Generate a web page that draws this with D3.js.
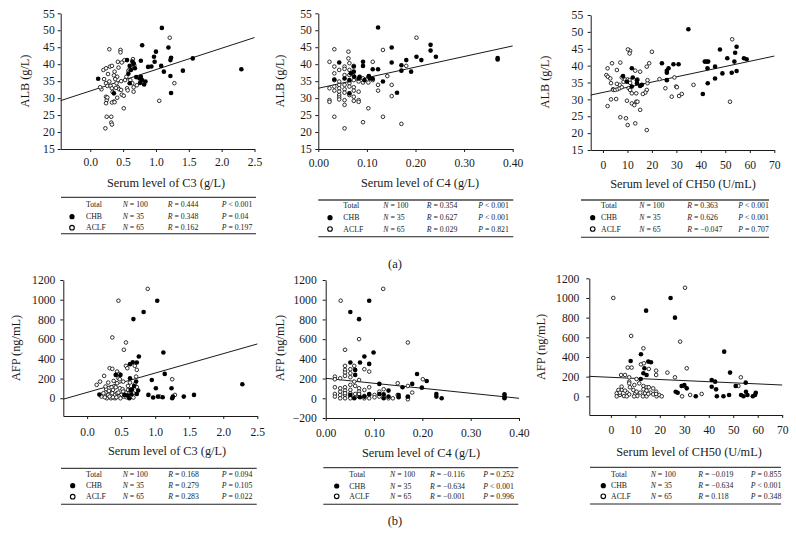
<!DOCTYPE html>
<html><head><meta charset="utf-8">
<script src="https://cdn.jsdelivr.net/npm/d3@7"></script>
<style>
body{margin:0;background:#fff}
svg{display:block}
text{font-family:"Liberation Serif","DejaVu Serif",serif;fill:#1a1a1a}
</style>
</head><body>
<svg id="c" width="796" height="549"></svg>
<script>
// ---------- DATA ----------
const groups = ["Total", "CHB", "ACLF"];
const groupN = [100, 35, 65];

const albTicks = [15, 20, 25, 30, 35, 40, 45, 50, 55];
const afpTicks = [0, 200, 400, 600, 800, 1000, 1200];
const afpTicksNeg = [-200, 0, 200, 400, 600, 800, 1000, 1200];
const c3Ticks = [0, 0.5, 1.0, 1.5, 2.0, 2.5];
const c4Ticks = [0, 0.1, 0.2, 0.3, 0.4];
const ch50Ticks = [0, 10, 20, 30, 40, 50, 60, 70];

// C3 vs ALB
const c3AlbCHB = [[0.12,35.7],[0.36,31.4],[0.56,41.2],[0.60,39.5],[0.62,38.3],[0.64,40.8],[0.66,40.1],[0.68,38.8],[0.75,35.8],[0.77,36.3],[0.76,34.5],[0.79,35.3],[0.84,34.9],[0.79,45.6],[0.77,41.0],[0.88,39.2],[0.93,39.3],[0.97,42.2],[0.98,40.7],[1.00,43.7],[1.08,39.5],[1.09,50.7],[1.12,37.8],[1.19,44.9],[1.22,41.2],[1.23,41.9],[1.22,36.5],[1.23,31.5],[1.41,38.1],[1.56,41.7],[2.30,38.5],[0.58,37.2],[0.60,34.4],[0.70,36.2],[0.82,34.0]];
const c3AlbACLF = [[0.29,44.4],[0.46,44.2],[0.46,43.5],[0.23,21.1],[0.25,24.5],[0.32,24.5],[0.32,22.8],[0.33,22.2],[0.51,27.0],[1.05,29.2],[1.21,47.8],[1.28,34.4],[0.17,32.6],[0.20,38.3],[0.24,38.8],[0.27,37.1],[0.30,39.3],[0.33,39.5],[0.42,40.7],[0.43,39.0],[0.41,36.3],[0.38,35.6],[0.40,34.4],[0.42,33.2],[0.44,32.6],[0.47,32.4],[0.48,31.0],[0.51,30.7],[0.56,32.9],[0.53,35.3],[0.55,36.3],[0.58,38.1],[0.62,39.3],[0.66,40.3],[0.65,41.5],[0.67,39.7],[0.61,35.3],[0.64,34.4],[0.66,33.2],[0.66,31.9],[0.24,34.4],[0.26,33.6],[0.31,33.6],[0.33,32.9],[0.34,31.8],[0.36,29.0],[0.33,28.7],[0.25,29.4],[0.24,30.4],[0.26,30.2],[0.24,28.5],[0.41,30.1],[0.37,28.8],[0.15,33.2],[0.21,35.6],[0.29,34.9],[0.36,36.7],[0.37,37.8],[0.48,40.5],[0.52,41.2],[0.60,38.4],[0.71,33.8],[0.57,32.3],[0.47,35.0],[0.39,33.0]];
const c3AlbFit = [32.1, 6.3];
const c3AlbR = ["0.444", "0.348", "0.162"];
const c3AlbP = ["< 0.001", "= 0.04", "= 0.197"];

// C4 vs ALB
const c4AlbCHB = [[0.123,50.8],[0.043,40.5],[0.033,35.5],[0.064,31.4],[0.073,37.8],[0.073,39.3],[0.092,40.7],[0.092,39.5],[0.085,36.3],[0.104,36.5],[0.112,38.5],[0.123,38.5],[0.112,35.7],[0.133,34.9],[0.151,44.9],[0.151,40.5],[0.162,31.6],[0.171,39.7],[0.171,38.1],[0.181,41.2],[0.191,37.8],[0.202,42.2],[0.212,41.2],[0.231,45.7],[0.231,44.0],[0.242,42.2],[0.369,41.4],[0.369,41.8],[0.074,36.3],[0.054,35.8],[0.064,35.3],[0.095,35.3],[0.106,35.8],[0.083,35.8],[0.067,37.3]];
const c4AlbACLF = [[0.033,44.4],[0.062,43.7],[0.062,41.7],[0.023,40.7],[0.033,39.3],[0.043,38.3],[0.054,39.3],[0.054,38.6],[0.073,39.5],[0.033,37.3],[0.023,32.9],[0.023,29.4],[0.023,28.9],[0.033,24.5],[0.043,33.9],[0.043,32.9],[0.043,31.9],[0.043,30.9],[0.043,30.2],[0.054,29.4],[0.054,28.0],[0.054,21.1],[0.054,33.9],[0.054,32.6],[0.064,36.8],[0.064,34.4],[0.064,33.4],[0.073,35.3],[0.073,33.2],[0.073,32.2],[0.073,29.2],[0.083,31.9],[0.083,29.4],[0.083,28.9],[0.092,34.6],[0.092,22.9],[0.103,34.6],[0.103,27.0],[0.112,40.7],[0.123,33.9],[0.123,32.2],[0.133,44.2],[0.133,24.5],[0.142,36.5],[0.151,33.9],[0.151,30.6],[0.171,22.4],[0.181,39.5],[0.202,47.8],[0.064,40.3],[0.083,34.9],[0.103,36.3],[0.033,33.4],[0.033,35.3],[0.043,34.9],[0.054,36.8],[0.064,30.9],[0.073,36.5],[0.092,35.8],[0.054,31.6],[0.043,29.6],[0.033,32.2],[0.064,38.3],[0.112,35.3],[0.073,30.4]];
const c4AlbFit = [32.9, 31.2];
const c4AlbR = ["0.354", "0.627", "0.029"];
const c4AlbP = ["< 0.001", "< 0.001", "= 0.821"];

// CH50 vs ALB
const ch50AlbCHB = [[34.9,50.8],[24.1,40.7],[26.1,38.5],[26.1,37.9],[26.1,35.7],[26.8,39.2],[28.8,40.4],[30.9,40.4],[8.2,36.9],[11.8,39.2],[12.2,36.5],[13.9,35.7],[13.9,34.8],[15.2,34.0],[15.9,34.3],[11.8,33.8],[9.8,35.2],[40.8,31.6],[41.6,41.2],[42.3,41.2],[43.0,41.2],[42.7,39.2],[42.8,34.8],[45.8,39.7],[45.8,36.2],[47.8,44.8],[48.8,37.7],[50.8,42.2],[52.6,37.9],[54.0,43.8],[53.7,41.2],[54.6,45.6],[54.6,38.4],[57.6,42.2],[58.7,41.9]];
const ch50AlbACLF = [[11.1,44.4],[10.2,44.8],[10.9,43.6],[20.0,44.1],[18.9,40.7],[17.9,39.7],[3.7,40.7],[7.1,40.9],[1.4,37.2],[2.0,36.7],[3.0,36.2],[3.3,34.8],[4.1,33.0],[4.3,32.8],[5.0,32.8],[6.0,33.0],[6.8,33.3],[7.7,33.6],[6.8,34.3],[8.4,35.2],[9.1,35.9],[10.1,35.9],[10.9,35.7],[11.1,34.9],[10.5,33.3],[11.1,32.8],[9.8,29.6],[11.8,31.8],[11.8,28.8],[12.8,28.3],[13.6,31.8],[13.6,29.3],[14.1,29.3],[15.2,26.9],[13.2,22.9],[10.1,22.4],[7.1,24.7],[9.4,24.4],[1.9,28.0],[3.3,30.0],[5.4,30.1],[17.9,20.9],[17.9,32.8],[17.3,32.0],[16.3,31.6],[18.2,34.8],[18.2,35.7],[15.2,38.2],[13.2,38.5],[5.7,38.7],[1.9,39.2],[23.1,36.0],[25.5,33.3],[29.9,33.8],[30.2,33.6],[29.2,36.5],[28.1,30.8],[31.1,31.0],[32.2,31.6],[37.0,34.3],[51.9,29.3],[52.8,47.8],[7.7,36.5],[14.1,35.9],[5.7,34.6]];
const ch50AlbFit = [32.05, 0.154];
const ch50AlbR = ["0.363", "0.626", "\u22120.047"];
const ch50AlbP = ["< 0.001", "< 0.001", "= 0.707"];

// C3 vs AFP
const c3AfpCHB = [[1.03,990],[0.83,875],[0.68,803],[0.76,424],[0.67,366],[0.73,363],[1.12,464],[0.63,346],[0.49,237],[0.42,237],[0.63,203],[0.72,170],[0.95,186],[1.14,247],[0.75,78],[0.73,44],[0.66,92],[0.65,41],[0.59,27],[0.62,0],[1.01,102],[0.90,34],[1.11,10],[1.26,17],[1.42,17],[1.57,34],[2.28,142],[0.18,37],[0.55,34],[1.04,17],[1.24,102],[1.25,0],[0.64,85],[0.69,125],[0.97,7]];
const c3AfpACLF = [[0.46,990],[0.89,1110],[0.37,617],[0.57,566],[0.54,492],[0.25,227],[0.33,305],[0.37,298],[0.57,329],[0.59,305],[0.70,329],[0.73,288],[0.44,271],[0.47,247],[0.46,203],[0.48,193],[0.72,220],[0.31,159],[0.39,176],[0.70,142],[0.73,112],[0.60,125],[1.25,193],[0.28,92],[0.36,112],[0.48,102],[0.52,92],[0.68,51],[0.57,58],[0.27,58],[0.37,51],[0.41,34],[0.44,51],[0.50,34],[0.54,17],[0.58,10],[0.41,0],[0.35,0],[0.29,0],[0.31,34],[0.24,51],[0.21,17],[0.33,17],[0.47,17],[0.49,0],[0.65,17],[0.68,7],[1.07,17],[1.29,34],[0.14,136],[0.19,169],[0.44,152],[0.63,159],[0.53,169],[0.27,119],[0.38,85],[0.42,112],[0.60,85],[0.53,68],[0.26,10],[0.46,58],[0.32,75],[0.64,51],[0.38,10],[0.43,10]];
const c3AfpFit = [59.4, 196.6];
const c3AfpR = ["0.168", "0.279", "0.283"];
const c3AfpP = ["= 0.094", "= 0.105", "= 0.022"];

// C4 vs AFP
const c4AfpCHB = [[0.090,990],[0.051,875],[0.069,803],[0.080,424],[0.099,464],[0.051,363],[0.071,363],[0.090,349],[0.061,288],[0.061,237],[0.111,146],[0.130,78],[0.151,34],[0.159,112],[0.179,146],[0.189,247],[0.199,108],[0.209,176],[0.229,44],[0.229,17],[0.240,0],[0.370,41],[0.370,17],[0.370,0],[0.111,44],[0.120,41],[0.120,0],[0.090,44],[0.080,17],[0.130,17],[0.151,10],[0.051,34],[0.170,17],[0.059,0],[0.071,10]];
const c4AfpACLF = [[0.031,990],[0.119,1110],[0.069,600],[0.170,566],[0.040,492],[0.040,329],[0.059,329],[0.051,295],[0.040,288],[0.040,261],[0.051,254],[0.080,295],[0.090,271],[0.019,220],[0.019,193],[0.030,203],[0.040,227],[0.051,214],[0.069,186],[0.069,102],[0.090,112],[0.149,153],[0.170,125],[0.201,193],[0.019,112],[0.040,112],[0.040,78],[0.051,136],[0.061,125],[0.069,68],[0.120,92],[0.019,44],[0.030,34],[0.040,34],[0.051,17],[0.061,44],[0.069,17],[0.080,24],[0.090,34],[0.101,34],[0.111,17],[0.120,17],[0.130,0],[0.139,0],[0.170,10],[0.170,-10],[0.179,58],[0.030,0],[0.040,0],[0.051,0],[0.061,10],[0.080,0],[0.030,68],[0.040,51],[0.090,0],[0.101,10],[0.059,169],[0.080,85],[0.019,17],[0.030,102],[0.111,68],[0.051,85],[0.069,44],[0.149,34],[0.051,51]];
const c4AfpFit = [203, -507];
const c4AfpR = ["\u22120.116", "\u22120.634", "\u22120.001"];
const c4AfpP = ["= 0.252", "< 0.001", "= 0.996"];

// CH50 vs AFP
const ch50AfpCHB = [[24.4,1000],[14.4,871],[26.2,800],[12.3,427],[8.1,359],[15.3,353],[16.4,346],[13.7,285],[14.6,217],[13.3,234],[12.2,176],[30.0,115],[31.0,81],[34.7,0],[41.2,166],[42.6,149],[43.0,71],[43.3,0],[41.2,98],[46.0,0],[48.3,14],[48.7,241],[46.3,454],[51.0,105],[53.2,14],[54.2,0],[55.1,139],[55.2,47],[58.0,0],[58.9,14],[59.2,37],[26.5,47],[27.3,37],[28.9,105],[55.8,14]];
const ch50AfpACLF = [[1.0,1000],[30.3,1104],[8.3,614],[28.3,556],[13.3,488],[6.9,292],[8.5,292],[12.3,325],[13.5,336],[15.5,278],[18.5,261],[18.5,217],[23.1,241],[4.2,217],[5.8,217],[7.5,193],[7.5,149],[7.5,132],[10.5,176],[11.6,132],[13.3,105],[14.6,92],[15.5,92],[4.4,98],[4.4,64],[26.2,193],[30.0,105],[31.0,285],[53.1,193],[52.1,105],[2.4,31],[2.4,0],[3.7,14],[5.4,3],[6.7,37],[7.5,20],[9.2,64],[9.9,24],[10.8,3],[12.0,37],[13.1,0],[14.0,31],[14.6,0],[16.2,37],[17.3,20],[18.5,47],[18.7,0],[19.8,14],[20.8,0],[9.5,0],[6.5,0],[29.1,0],[32.4,14],[37.1,24],[10.5,47],[13.3,71],[15.3,24],[7.8,92],[3.1,64],[3.7,37],[17.3,81],[5.8,58],[14.6,58],[18.5,24],[9.6,115]];
const ch50AfpFit = [193.2, -1.117];
const ch50AfpR = ["\u22120.019", "\u22120.634", "0.118"];
const ch50AfpP = ["= 0.855", "< 0.001", "= 0.348"];

// ---------- LAYOUT ----------
const panels = [
  {chb:c3AlbCHB, aclf:c3AlbACLF, fit:c3AlbFit, xDom:[-0.45,2.5], xRange:[60.7,254.5], yDom:[15,55], yRange:[149,13.3],
   xTicks:c3Ticks, yTicks:albTicks, xFmt:".1f", xPad:6, yPad:3, xTitle:"Serum level of C3 (g/L)", xtx:166, xty:187,
   yTitle:"ALB (g/L)", ytx:25, yty:81},
  {chb:c4AlbCHB, aclf:c4AlbACLF, fit:c4AlbFit, xDom:[0,0.4], xRange:[318.3,512.7], yDom:[15,55], yRange:[149,13.3],
   xTicks:c4Ticks, yTicks:albTicks, xFmt:".2f", xPad:7, yPad:3.5, xTitle:"Serum level of C4 (g/L)", xtx:420, xty:187,
   yTitle:"ALB (g/L)", ytx:280, yty:81},
  {chb:ch50AlbCHB, aclf:ch50AlbACLF, fit:ch50AlbFit, xDom:[-5,70], xRange:[590.7,774.3], yDom:[15,55], yRange:[150,15],
   xTicks:ch50Ticks, yTicks:albTicks, xFmt:"d", xPad:8, yPad:4.5, xTitle:"Serum level of CH50 (U/mL)", xtx:683, xty:188,
   yTitle:"ALB (g/L)", ytx:545, yty:82},
  {chb:c3AfpCHB, aclf:c3AfpACLF, fit:c3AfpFit, xDom:[-0.35,2.5], xRange:[63.3,257.3], yDom:[-180,1200], yRange:[416,280],
   xTicks:c3Ticks, yTicks:afpTicks, xFmt:".1f", xPad:9, yPad:5, xTitle:"Serum level of C3 (g/L)", xtx:167, xty:455,
   yTitle:"AFP (ng/mL)", ytx:16, yty:348},
  {chb:c4AfpCHB, aclf:c4AfpACLF, fit:c4AfpFit, xDom:[0,0.4], xRange:[325.7,519], yDom:[-200,1200], yRange:[418,280],
   xTicks:c4Ticks, yTicks:afpTicksNeg, xFmt:".2f", xPad:7.5, yPad:6, xTitle:"Serum level of C4 (g/L)", xtx:421, xty:456.5,
   yTitle:"AFP (ng/mL)", ytx:280, yty:348},
  {chb:ch50AfpCHB, aclf:ch50AfpACLF, fit:ch50AfpFit, xDom:[-8.8,70], xRange:[589.3,782.2], yDom:[-190,1200], yRange:[415,278.3],
   xTicks:ch50Ticks, yTicks:afpTicks, xFmt:"d", xPad:7.5, yPad:7, xTitle:"Serum level of CH50 (U/mL)", xtx:689, xty:455.5,
   yTitle:"AFP (ng/mL)", ytx:541, yty:347}
];

const tables = [
  {R:c3AlbR, P:c3AlbP, left:61, right:256, top:197.3, bottom:233.7, rows:[204.7,216.7,227.7], mark:72, label:86, n:122.7, r:167.7, p:221.7},
  {R:c4AlbR, P:c4AlbP, left:318.3, right:513.3, top:200, bottom:236.7, rows:[205.7,217.7,229], mark:330, label:343.3, n:383.3, r:426.7, p:478.3},
  {R:ch50AlbR, P:ch50AlbP, left:581, right:769, top:200, bottom:237.3, rows:[205.7,217.7,229], mark:592.7, label:601, n:639.3, r:687.3, p:738.3},
  {R:c3AfpR, P:c3AfpP, left:61, right:256.7, top:468.3, bottom:504.3, rows:[474.3,485.7,496.7], mark:72.7, label:86, n:122.7, r:168.3, p:221.7},
  {R:c4AfpR, P:c4AfpP, left:323.3, right:518.3, top:467.7, bottom:504.3, rows:[474.7,486,496.3], mark:336.7, label:349.3, n:390, r:430, p:483.3},
  {R:ch50AfpR, P:ch50AfpP, left:590, right:781, top:467.3, bottom:504, rows:[474.3,485.7,496.3], mark:603.3, label:611, n:650.7, r:698.3, p:750.7}
];

const svg = d3.select("#c");
const INK = "#1a1a1a";

function drawPanel(p) {
  const x = d3.scaleLinear().domain(p.xDom).range(p.xRange);
  const y = d3.scaleLinear().domain(p.yDom).range(p.yRange);
  const g = svg.append("g");

  const xa = g.append("g").attr("transform", `translate(0,${p.yRange[0]})`)
    .call(d3.axisBottom(x).tickValues(p.xTicks).tickFormat(d3.format(p.xFmt))
      .tickSizeInner(3).tickSizeOuter(0).tickPadding(p.xPad));
  const ya = g.append("g").attr("transform", `translate(${p.xRange[0]},0)`)
    .call(d3.axisLeft(y).tickValues(p.yTicks).tickFormat(d3.format("d"))
      .tickSizeInner(3).tickSizeOuter(0).tickPadding(p.yPad));
  [xa, ya].forEach(a => {
    a.attr("font-family", null).attr("font-size", null);
    a.selectAll("path,line").attr("stroke", INK).attr("stroke-width", 1);
    a.selectAll("text").attr("font-size", 11.6).style("fill", INK);
  });

  // regression line
  const lx = p.xDom;
  g.append("line")
    .attr("x1", x(lx[0])).attr("y1", y(p.fit[0] + p.fit[1] * lx[0]))
    .attr("x2", x(lx[1])).attr("y2", y(p.fit[0] + p.fit[1] * lx[1]))
    .attr("stroke", INK).attr("stroke-width", 1);

  g.selectAll(null).data(p.aclf).enter().append("circle")
    .attr("cx", d => x(d[0])).attr("cy", d => y(d[1])).attr("r", 1.8)
    .attr("fill", "#fff").attr("stroke", INK).attr("stroke-width", 0.9);
  g.selectAll(null).data(p.chb).enter().append("circle")
    .attr("cx", d => x(d[0])).attr("cy", d => y(d[1])).attr("r", 2.3)
    .attr("fill", "#000");

  g.append("text").attr("x", p.xtx).attr("y", p.xty).attr("text-anchor", "middle")
    .attr("font-size", 12.3).text(p.xTitle);
  g.append("text").attr("transform", `translate(${p.ytx},${p.yty}) rotate(-90)`)
    .attr("text-anchor", "middle").attr("dominant-baseline", "central")
    .attr("font-size", 12.3).text(p.yTitle);
}

function drawTable(t) {
  const g = svg.append("g");
  g.append("line").attr("x1", t.left).attr("x2", t.right).attr("y1", t.top).attr("y2", t.top)
    .attr("stroke", "#444").attr("stroke-width", 1.3);
  g.append("line").attr("x1", t.left).attr("x2", t.right).attr("y1", t.bottom).attr("y2", t.bottom)
    .attr("stroke", "#222").attr("stroke-width", 1.1);
  groups.forEach((name, i) => {
    const cy = t.rows[i];
    if (i === 1) g.append("circle").attr("cx", t.mark).attr("cy", cy).attr("r", 2.6).attr("fill", "#000");
    if (i === 2) g.append("circle").attr("cx", t.mark).attr("cy", cy).attr("r", 2.3)
      .attr("fill", "#fff").attr("stroke", "#000").attr("stroke-width", 1.1);
    const ty = cy + 2.6;
    g.append("text").attr("x", t.label).attr("y", ty).attr("font-size", 7.8).text(name);
    const cells = [[t.n, "N", " = " + groupN[i]], [t.r, "R", " = " + t.R[i]], [t.p, "P", " " + t.P[i]]];
    cells.forEach(c => {
      const tx = g.append("text").attr("x", c[0]).attr("y", ty).attr("font-size", 7.8);
      tx.append("tspan").attr("font-style", "italic").text(c[1]);
      tx.append("tspan").text(c[2]);
    });
  });
}

panels.forEach(drawPanel);
tables.forEach(drawTable);

svg.append("text").attr("x", 395).attr("y", 268).attr("text-anchor", "middle").attr("font-size", 12.5).text("(a)");
svg.append("text").attr("x", 395).attr("y", 525).attr("text-anchor", "middle").attr("font-size", 12.5).text("(b)");
</script>
</body></html>
